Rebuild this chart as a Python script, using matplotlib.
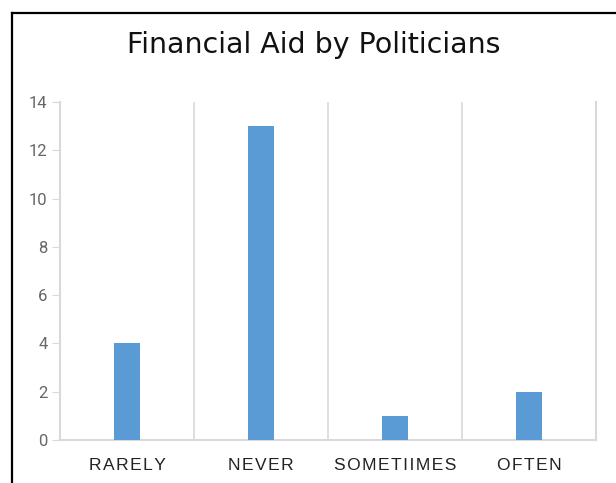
import matplotlib.pyplot as plt
from matplotlib.lines import Line2D

categories = ["RARELY", "NEVER", "SOMETIIMES", "OFTEN"]
counts = [4, 13, 1, 2]
y_ticks = [0, 2, 4, 6, 8, 10, 12, 14]

BAR_COLOR = "#5b9bd5"
GRID_COLOR = "#d9d9d9"


def spaced(word):
    # widen the tracking of the category labels
    return "\u200a".join(word)


fig = plt.figure(figsize=(6.16, 4.83), dpi=100)
ax = fig.add_axes([60 / 616, 1 - 440 / 483, 536 / 616, 338 / 483])

x = list(range(len(categories)))
ax.bar(x, counts, width=0.19, color=BAR_COLOR, zorder=3)

ax.set_xlim(-0.5, len(categories) - 0.5)
ax.set_ylim(0, 14)
ax.set_yticks(y_ticks)
ax.set_xticks(x)
ax.set_xticklabels([spaced(c) for c in categories], fontsize=12.5,
                   color="#222222", family=["Liberation Sans", "DejaVu Sans"])

# vertical separators between categories
ax.set_xticks([i + 0.5 for i in x[:-1]], minor=True)
ax.grid(axis="x", which="minor", color=GRID_COLOR, linewidth=1.2)
ax.tick_params(axis="x", which="both", length=0, pad=13)
ax.tick_params(axis="y", length=6, color=GRID_COLOR, labelcolor="#666666",
               labelsize=12, pad=3)
for lbl in ax.get_yticklabels():
    lbl.set_family("Roboto")

ax.spines["top"].set_visible(False)
for side in ("left", "right", "bottom"):
    ax.spines[side].set_color(GRID_COLOR)
    ax.spines[side].set_linewidth(1.5)

fig.text(314 / 616, 1 - 45 / 483, "Financial Aid by Politicians",
         ha="center", va="center", fontsize=20.5, color="#111111",
         family="DejaVu Sans")

# frame lines along top and left edge
fig.add_artist(Line2D([11.5 / 616, 1.0], [1 - 12.5 / 483, 1 - 12.5 / 483],
                      transform=fig.transFigure, color="black", linewidth=1.6))
fig.add_artist(Line2D([11.5 / 616, 11.5 / 616], [0, 1 - 12.5 / 483],
                      transform=fig.transFigure, color="black", linewidth=1.6))

fig.savefig("out.png", dpi=100)
